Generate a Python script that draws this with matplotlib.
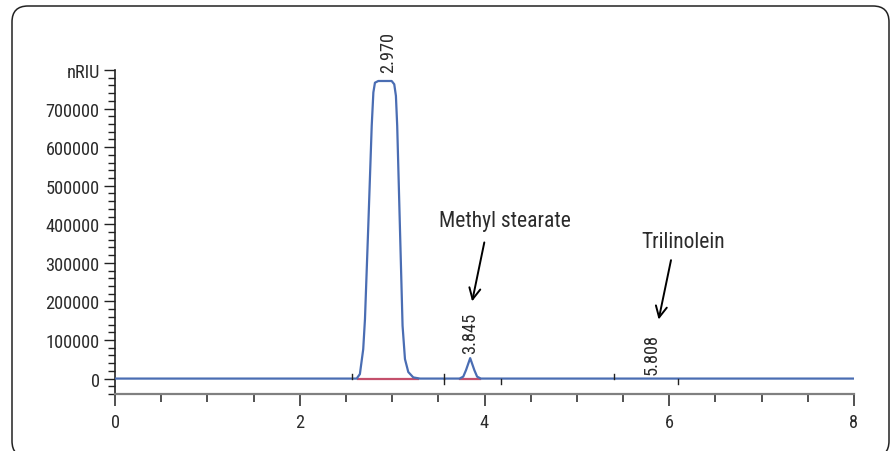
import matplotlib
matplotlib.use("Agg")
import matplotlib.pyplot as plt
from matplotlib import font_manager
from matplotlib.patches import FancyBboxPatch
from matplotlib.ticker import MultipleLocator, FixedLocator

# ---------------- data ----------------
time_min = [0.0, 2.55, 2.616, 2.651, 2.687, 2.706, 2.742, 2.779, 2.797, 2.814, 2.850,
            2.995, 3.023, 3.041, 3.055, 3.084, 3.113, 3.139, 3.175, 3.229, 3.301,
            3.73, 3.77, 3.80, 3.845, 3.89, 3.92, 3.96, 8.0]
signal_nriu = [0, 0, 0, 11600, 76000, 154000, 396000, 655000, 742000, 767000, 771500,
               771500, 763000, 733000, 655000, 396000, 137000, 50500, 17000, 3000, 0,
               0, 5000, 22000, 53000, 22000, 5000, 0, 0]

baseline_start = [2.63, 3.73]
baseline_end = [3.28, 3.95]

event_times = [2.57, 3.56, 3.56, 4.175, 5.40, 6.096]
event_dir = [1, 1, -1, -1, 1, -1]   # +1 up, -1 down

peak_rt = [2.955, 3.845, 5.808]
peak_label_y = [772000, 53000, 0]
peak_labels = ["2.970", "3.845", "5.808"]

compound_names = ["Methyl stearate", "Trilinolein"]
compound_text_xy = [(4.22, 396000), (6.152, 340000)]
compound_arrow_start = [(4.004, 360000), (6.025, 314000)]
compound_arrow_tip = [(3.86, 193000), (5.879, 146000)]

y_ticks = [0, 100000, 200000, 300000, 400000, 500000, 600000, 700000, 800000]
y_ticklabels = ["0", "100000", "200000", "300000", "400000", "500000", "600000", "700000", "nRIU"]
x_ticks = [0, 2, 4, 6, 8]
x_ticklabels = ["0", "2", "4", "6", "8"]

# ---------------- font ----------------
names = {f.name for f in font_manager.fontManager.ttflist}
cond = [f for f in font_manager.fontManager.ttflist
        if f.name == "DejaVu Sans" and str(f.stretch) in ("condensed", "semi-condensed", "600", "500")]
if "Roboto Condensed" in names:
    FAM, STR = "Roboto Condensed", "normal"
elif "Liberation Sans Narrow" in names:
    FAM, STR = "Liberation Sans Narrow", "normal"
elif cond:
    FAM, STR = "DejaVu Sans", "condensed"
else:
    FAM, STR = "Roboto", "normal"
plt.rcParams["font.family"] = [FAM, "DejaVu Sans"]
plt.rcParams["font.stretch"] = STR

TXT = "#2b2b2b"
BLUE = "#4a6db3"
RED = "#c4506c"

fig = plt.figure(figsize=(8.91, 4.52), dpi=100)

# rounded frame around the chart (1 unit = 1 pixel, y upward)
bg = fig.add_axes([0, 0, 1, 1])
bg.set_xlim(0, 891)
bg.set_ylim(0, 452)
bg.axis("off")
bg.add_patch(FancyBboxPatch((12, -6), 877, 451, boxstyle="round,pad=0,rounding_size=16",
                            fill=False, ec="#222222", lw=1.1, clip_on=False))

ax = fig.add_axes([115 / 891, 1 - 395 / 452, 739 / 891, (395 - 71) / 452])
ax.patch.set_alpha(0)
ax.set_xlim(0, 8)
ax.set_ylim(-40000, 800000)

ax.plot(time_min, signal_nriu, color=BLUE, lw=1.6, solid_joinstyle="round", zorder=3)
for s, e in zip(baseline_start, baseline_end):
    ax.plot([s, e], [0, 0], color=RED, lw=1.6, zorder=2)

for t, d in zip(event_times, event_dir):
    ax.plot([t, t], [0, d * 13000], color="#222222", lw=1.0, zorder=4)

for rt, yv, lab, off in zip(peak_rt, peak_label_y, peak_labels, [6.5, 4, 3.5]):
    ax.annotate(lab, (rt, yv), xytext=(0, off), textcoords="offset points",
                rotation=90, ha="center", va="bottom", fontsize=13.2, color=TXT,
                annotation_clip=False)

for name, txy, a0, a1 in zip(compound_names, compound_text_xy, compound_arrow_start, compound_arrow_tip):
    ax.text(txy[0], txy[1], name, ha="center", va="baseline", fontsize=15.5, color=TXT)
    ax.annotate("", xy=a1, xytext=a0,
                arrowprops=dict(arrowstyle="->,head_length=0.8,head_width=0.4", color="black", lw=1.4))

for sp in ["top", "right"]:
    ax.spines[sp].set_visible(False)
ax.spines["left"].set_color("#222222")
ax.spines["left"].set_linewidth(1.2)
ax.spines["bottom"].set_color("#808080")
ax.spines["bottom"].set_linewidth(1.6)

ax.yaxis.set_major_locator(FixedLocator(y_ticks))
ax.set_yticklabels(y_ticklabels)
ax.yaxis.set_minor_locator(MultipleLocator(20000))
ax.xaxis.set_major_locator(FixedLocator(x_ticks))
ax.set_xticklabels(x_ticklabels)
ax.xaxis.set_minor_locator(MultipleLocator(0.5))

ax.tick_params(axis="y", which="major", length=8, width=1.0, color="#222222", labelsize=13.2,
               labelcolor=TXT, pad=3)
ax.tick_params(axis="y", which="minor", length=5, width=1.0, color="#222222")
ax.tick_params(axis="x", which="major", length=8.5, width=1.2, color="#333333", labelsize=13.2,
               labelcolor=TXT, pad=5)
ax.tick_params(axis="x", which="minor", length=5.5, width=1.2, color="#333333")

fig.savefig("out.png", dpi=100)
